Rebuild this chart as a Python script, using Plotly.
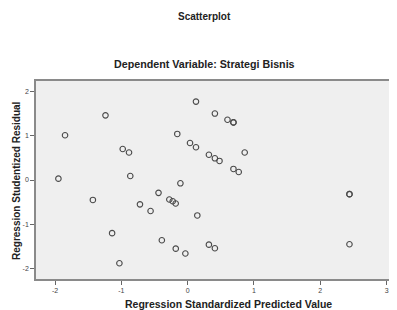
import plotly.graph_objects as go

pred = [0.125, -1.24, -1.85, -0.157, -0.98, -0.885, 0.035, 0.125, -1.95, -0.866,
        -0.11, -1.43, -0.44, -0.72, -0.277, -0.226, -0.181, -0.56, 0.145, -1.14,
        -0.39, -0.18, -0.035, -1.03, 0.41, 0.60, 0.69, 0.69, 0.32, 0.41,
        0.48, 0.86, 0.69, 0.77, 2.44, 2.44, 0.32, 0.41, 2.44]
resid = [1.77, 1.46, 1.01, 1.04, 0.70, 0.62, 0.835, 0.74, 0.03, 0.09,
         -0.075, -0.45, -0.29, -0.55, -0.44, -0.48, -0.53, -0.70, -0.80, -1.20,
         -1.36, -1.55, -1.66, -1.88, 1.50, 1.36, 1.30, 1.30, 0.57, 0.49,
         0.43, 0.62, 0.25, 0.18, -0.32, -0.32, -1.46, -1.54, -1.45]

x_ticks = [-2, -1, 0, 1, 2, 3]
y_ticks = [-2, -1, 0, 1, 2]

FONT = "Liberation Sans, Arial, sans-serif"

fig = go.Figure()
fig.add_trace(go.Scatter(
    x=pred, y=resid, mode="markers",
    marker=dict(symbol="circle-open", size=5.5, color="#4a4a4a", line=dict(width=1.1)),
    showlegend=False, hoverinfo="x+y"))

# page has an 8px body margin; figure sized to fill the rest of the window
OFF = 8
W, H = 397 - OFF, 310 - OFF
L, R, T, B = 36 - OFF, 0, 81 - OFF, H - (279 - OFF)

fig.update_layout(
    width=W, height=H,
    margin=dict(l=L, r=R, t=T, b=B, pad=0),
    paper_bgcolor="white", plot_bgcolor="#EFEFEF",
    font=dict(family=FONT, size=7, color="#333"),
    xaxis=dict(range=[-2.288, 3.157], tickvals=x_ticks, ticktext=[str(v) for v in x_ticks],
               showgrid=False, zeroline=False, showline=True, linecolor="#8a8a8a",
               linewidth=1.5, mirror=True, ticks="outside", ticklen=4, tickcolor="#666",
               tickfont=dict(size=7, color="#444")),
    yaxis=dict(range=[-2.235, 2.235], tickvals=y_ticks, ticktext=[str(v) for v in y_ticks],
               showgrid=False, zeroline=False, showline=True, linecolor="#8a8a8a",
               linewidth=1.5, mirror=False, ticks="outside", ticklen=4, tickcolor="#666",
               tickfont=dict(size=7, color="#444")),
)

def px_x(p):
    return (p - OFF - L) / (W - L - R)

def px_y(p):
    return (H - B - (p - OFF)) / (H - T - B)

anns = [
    dict(text="<b>Scatterplot</b>", x=px_x(204), y=px_y(16), size=10),
    dict(text="<b>Dependent Variable: Strategi Bisnis</b>", x=px_x(204), y=px_y(64), size=10.7),
    dict(text="<b>Regression Standardized Predicted Value</b>", x=px_x(228), y=px_y(304), size=10.5),
]
for a in anns:
    fig.add_annotation(text=a["text"], x=a["x"], y=a["y"], xref="paper", yref="paper",
                       showarrow=False, xanchor="center", yanchor="middle",
                       font=dict(family=FONT, size=a["size"], color="#222"))
fig.add_annotation(text="<b>Regression Studentized Residual</b>", x=px_x(16), y=px_y(181),
                   xref="paper", yref="paper", showarrow=False, textangle=-90,
                   xanchor="center", yanchor="middle",
                   font=dict(family=FONT, size=10, color="#222"))

fig.write_html("out.html")
